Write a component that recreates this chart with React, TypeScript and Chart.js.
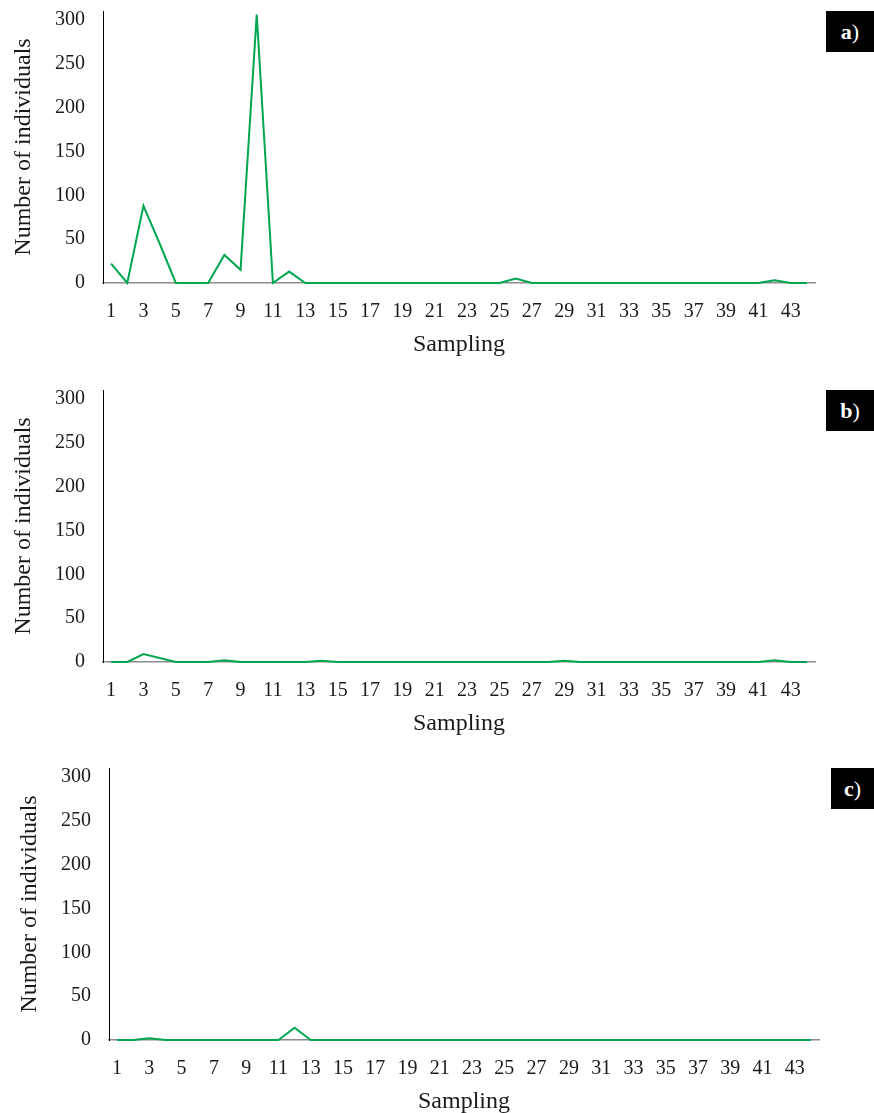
import React, { useEffect, useRef } from "react";
import { Chart, registerables } from "chart.js";

Chart.register(...registerables);

const samplingLabels = [
  "1", "2", "3", "4", "5", "6", "7", "8", "9", "10",
  "11", "12", "13", "14", "15", "16", "17", "18", "19", "20",
  "21", "22", "23", "24", "25", "26", "27", "28", "29", "30",
  "31", "32", "33", "34", "35", "36", "37", "38", "39", "40",
  "41", "42", "43", "44",
];

const seriesA = [
  22, 0, 88, 45, 0, 0, 0, 32, 15, 306,
  0, 13, 0, 0, 0, 0, 0, 0, 0, 0,
  0, 0, 0, 0, 0, 5, 0, 0, 0, 0,
  0, 0, 0, 0, 0, 0, 0, 0, 0, 0,
  0, 3, 0, 0,
];

const seriesB = [
  0, 0, 9, 4.5, 0, 0, 0, 2, 0, 0,
  0, 0, 0, 1.5, 0, 0, 0, 0, 0, 0,
  0, 0, 0, 0, 0, 0, 0, 0, 1.5, 0,
  0, 0, 0, 0, 0, 0, 0, 0, 0, 0,
  0, 2, 0, 0,
];

const seriesC = [
  0, 0, 2, 0, 0, 0, 0, 0, 0, 0,
  0, 14, 0, 0, 0, 0, 0, 0, 0, 0,
  0, 0, 0, 0, 0, 0, 0, 0, 0, 0,
  0, 0, 0, 0, 0, 0, 0, 0, 0, 0,
  0, 0, 0, 0,
];

const yTicks = [0, 50, 100, 150, 200, 250, 300];
const yMax = 310;

const panelLetters = ["a", "b", "c"];

const FONT = "'Liberation Serif', 'Times New Roman', serif";
const GREEN = "#00A651";
const W = 874;
const H = 379;
const TITLE_SIZE = 24;
const TITLE_HALF = (TITLE_SIZE * 1.2) / 2;

type PanelProps = {
  data: number[];
  top: number;
  axisLeft: number;
  axisRight: number;
  yTitleCenter: number;
  letter: string;
  badgeLeft: number;
};

function Panel({ data, top, axisLeft, axisRight, yTitleCenter, letter, badgeLeft }: PanelProps) {
  const ref = useRef<HTMLCanvasElement | null>(null);

  useEffect(() => {
    if (!ref.current) return;
    const plotTop = 11;
    const plotHeight = 272;
    const chart = new Chart(ref.current, {
      type: "line",
      data: {
        labels: samplingLabels,
        datasets: [
          {
            data,
            borderColor: GREEN,
            backgroundColor: GREEN,
            borderWidth: 2,
            pointRadius: 0,
            tension: 0,
            fill: false,
            clip: false,
          },
        ],
      },
      options: {
        responsive: false,
        animation: false,
        devicePixelRatio: 1,
        layout: {
          padding: { top: plotTop, left: 0, right: W - axisRight, bottom: 0 },
        },
        plugins: {
          legend: { display: false },
          tooltip: { enabled: false },
        },
        scales: {
          x: {
            type: "category",
            offset: true,
            grid: { display: false, drawTicks: false },
            border: { display: true, color: "#8c8c8c", width: 1.5, z: -1 },
            ticks: {
              autoSkip: false,
              maxRotation: 0,
              minRotation: 0,
              padding: 17,
              color: "#1a1a1a",
              font: { family: FONT, size: 20 },
              callback: (_v: any, i: number) => (i % 2 === 0 ? samplingLabels[i] : ""),
            },
            title: {
              display: true,
              text: "Sampling",
              color: "#1a1a1a",
              font: { family: FONT, size: TITLE_SIZE },
              padding: { top: 0, bottom: 34 - TITLE_HALF },
            },
            afterFit: (s: any) => {
              s.height = H - plotTop - plotHeight;
              s.paddingLeft = 0;
              s.paddingRight = 0;
            },
          },
          y: {
            min: 0,
            max: yMax,
            grid: { display: false, drawTicks: false },
            border: { display: true, color: "#000000", width: 1, z: -1 },
            afterBuildTicks: (s: any) => {
              s.ticks = yTicks.map((v) => ({ value: v }));
            },
            ticks: {
              padding: 18,
              color: "#1a1a1a",
              font: { family: FONT, size: 20 },
            },
            title: {
              display: true,
              text: "Number of individuals",
              color: "#1a1a1a",
              font: { family: FONT, size: TITLE_SIZE },
              padding: { top: yTitleCenter - TITLE_HALF, bottom: 0 },
            },
            afterFit: (s: any) => {
              s.width = axisLeft;
              s.paddingTop = 0;
              s.paddingBottom = 0;
            },
          },
        },
      },
    });
    return () => chart.destroy();
  }, [data, axisLeft, axisRight, yTitleCenter]);

  return (
    <div style={{ position: "absolute", left: 0, top, width: W, height: H }}>
      <canvas ref={ref} width={W} height={H} style={{ display: "block", width: W, height: H }} />
      <div
        style={{
          position: "absolute",
          left: badgeLeft,
          top: 11,
          width: W - badgeLeft,
          height: 41,
          background: "#000",
          color: "#fff",
          fontFamily: FONT,
          fontSize: 22,
          lineHeight: "41px",
          textAlign: "center",
        }}
      >
        <b>{letter}</b>)
      </div>
    </div>
  );
}

export default function App() {
  return (
    <div style={{ position: "absolute", left: 0, top: 0, width: W, height: 3 * H, background: "#fff" }}>
      <Panel data={seriesA} top={0} axisLeft={103} axisRight={815} yTitleCenter={24} letter={panelLetters[0]} badgeLeft={826} />
      <Panel data={seriesB} top={379} axisLeft={103} axisRight={815} yTitleCenter={24} letter={panelLetters[1]} badgeLeft={826} />
      <Panel data={seriesC} top={757} axisLeft={109} axisRight={819} yTitleCenter={30} letter={panelLetters[2]} badgeLeft={831} />
    </div>
  );
}
